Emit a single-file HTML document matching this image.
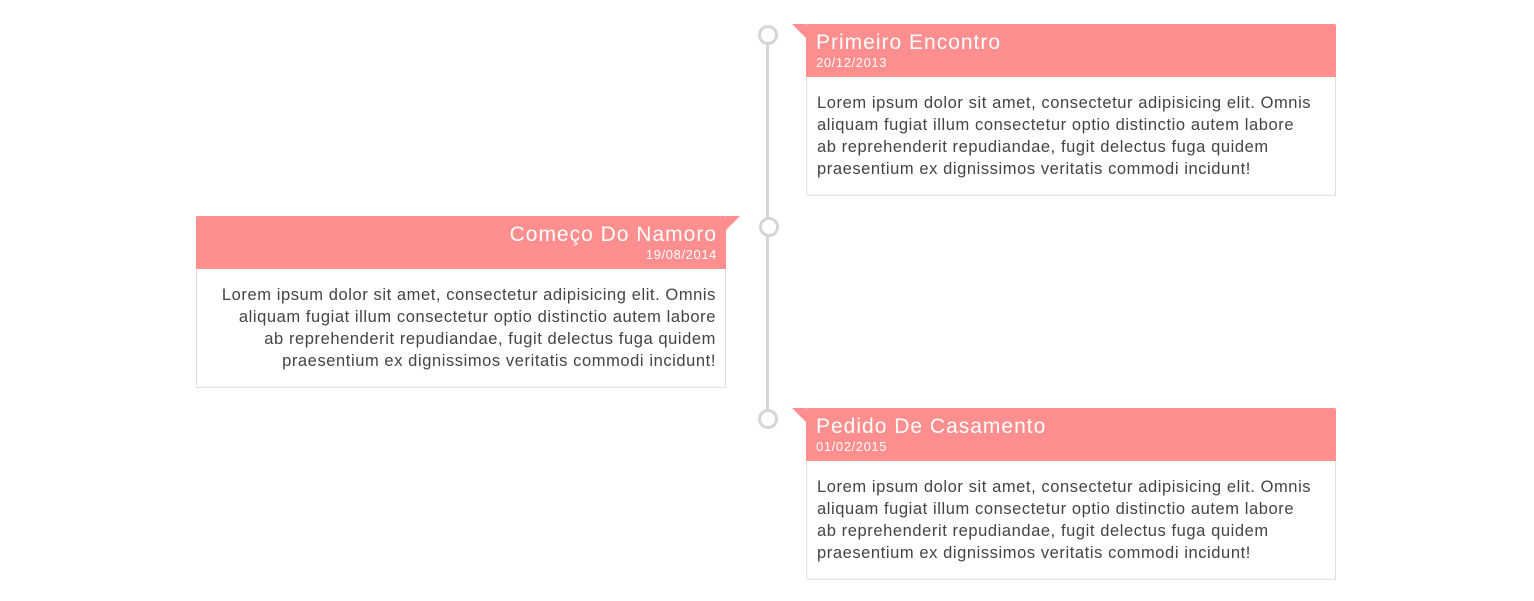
<!DOCTYPE html>
<html><head><meta charset="utf-8"><style>
body{margin:0;width:1534px;height:601px;background:#fff;position:relative;font-family:"Liberation Sans",sans-serif;overflow:hidden}
.line{position:absolute;left:766px;top:34px;width:3px;height:384px;background:#d5d5d5}
.dot{position:absolute;width:14px;height:14px;border:3px solid #d5d5d5;border-radius:50%;background:#fff}
.card{position:absolute;width:530px}
.hd{height:53px;background:#ff8e8e;color:#fff;box-sizing:border-box;padding:7px 10px 0 10px;border-radius:2px 2px 0 0}
.t{font-size:21px;line-height:24px;white-space:nowrap;letter-spacing:1px}
.d{font-size:13px;line-height:16px;letter-spacing:0.6px}
.bd{height:119px;box-sizing:border-box;border:1px solid #e0e0e0;border-top:none;padding:15px 10px 0 10px;font-size:16.5px;line-height:22px;color:#444;white-space:nowrap;letter-spacing:0.58px}
.r .hd,.r .bd{text-align:left}
.l .hd,.l .bd{text-align:right}
.l .hd{padding-right:9px}
.l .bd{padding-right:9px}
.flag{position:absolute;top:0;width:0;height:0;border-top:14px solid #ff8e8e}
.r .flag{left:-14px;border-left:14px solid transparent}
.l .flag{right:-14px;border-right:14px solid transparent}
</style></head><body>
<div class="line"></div>
<div class="dot" style="left:758px;top:25px"></div>
<div class="dot" style="left:759px;top:217px"></div>
<div class="dot" style="left:758px;top:409px"></div>

<div class="card r" style="left:806px;top:24px"><div class="flag"></div>
<div class="hd"><div class="t">Primeiro Encontro</div><div class="d">20/12/2013</div></div>
<div class="bd">Lorem ipsum dolor sit amet, consectetur adipisicing elit. Omnis<br>aliquam fugiat illum consectetur optio distinctio autem labore<br>ab reprehenderit repudiandae, fugit delectus fuga quidem<br>praesentium ex dignissimos veritatis commodi incidunt!</div></div>

<div class="card l" style="left:196px;top:216px"><div class="flag"></div>
<div class="hd"><div class="t">Começo Do Namoro</div><div class="d">19/08/2014</div></div>
<div class="bd">Lorem ipsum dolor sit amet, consectetur adipisicing elit. Omnis<br>aliquam fugiat illum consectetur optio distinctio autem labore<br>ab reprehenderit repudiandae, fugit delectus fuga quidem<br>praesentium ex dignissimos veritatis commodi incidunt!</div></div>

<div class="card r" style="left:806px;top:408px"><div class="flag"></div>
<div class="hd"><div class="t">Pedido De Casamento</div><div class="d">01/02/2015</div></div>
<div class="bd">Lorem ipsum dolor sit amet, consectetur adipisicing elit. Omnis<br>aliquam fugiat illum consectetur optio distinctio autem labore<br>ab reprehenderit repudiandae, fugit delectus fuga quidem<br>praesentium ex dignissimos veritatis commodi incidunt!</div></div>
</body></html>
